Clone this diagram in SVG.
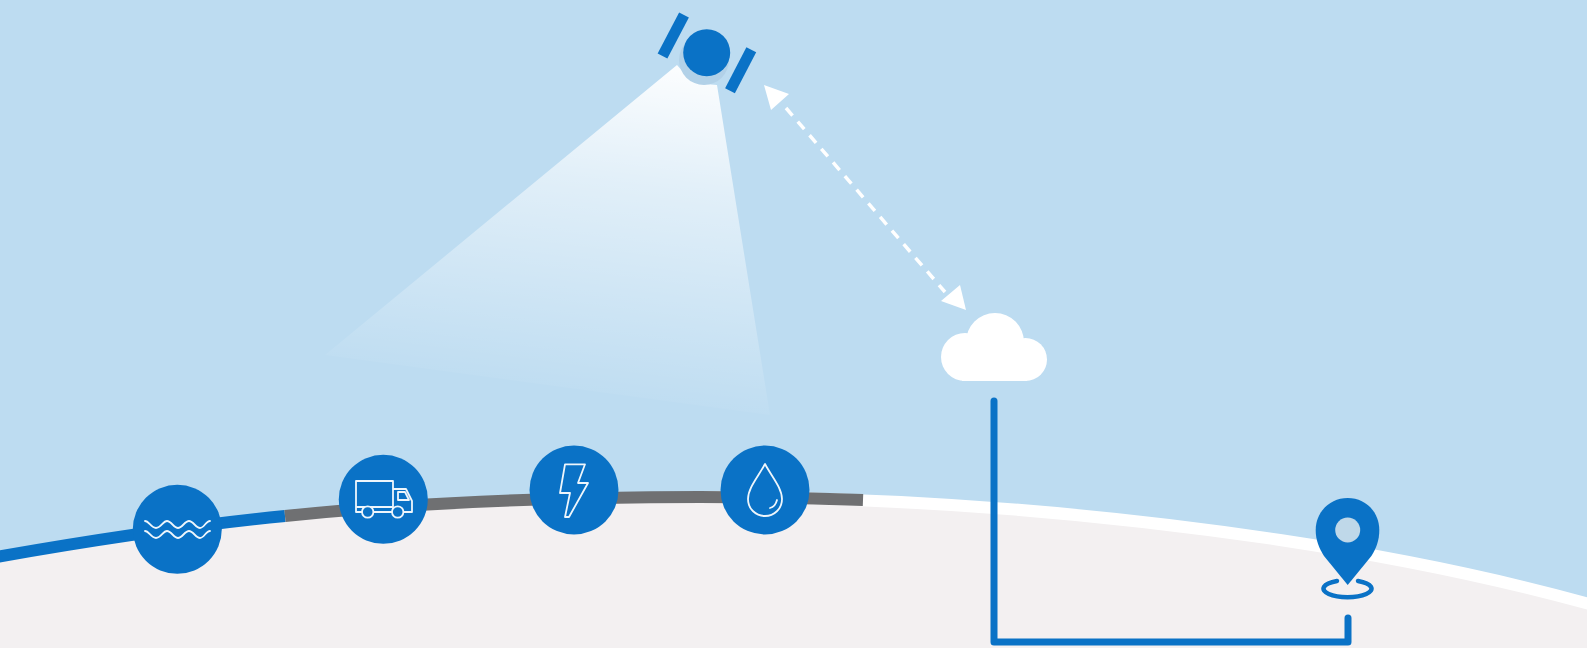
<svg xmlns="http://www.w3.org/2000/svg" width="1587" height="648" viewBox="0 0 1587 648">
<style>
.disc{fill:#0a72c6}
.glyph{fill:none;stroke:#eef6fc;stroke-width:1.8;stroke-linejoin:round;stroke-linecap:round}
.band{fill:none;stroke-width:12}
.wire{fill:none;stroke:#0a72c6;stroke-width:7;stroke-linecap:round;stroke-linejoin:round}
.panel{fill:none;stroke:#0a72c6;stroke-width:11}
.cloud{fill:#fff}
</style>
<defs>
<linearGradient id="beam" gradientUnits="userSpaceOnUse" x1="695" y1="70" x2="650" y2="416">
<stop offset="0" stop-color="#fff" stop-opacity=".95"/>
<stop offset=".35" stop-color="#fff" stop-opacity=".55"/>
<stop offset="1" stop-color="#fff" stop-opacity="0"/>
</linearGradient>
</defs>
<rect width="1587" height="648" fill="#bddcf1"/>
<path d="M-20 560C225 518 450 497 700 497C900 497 1100 513 1280 540C1380 555 1490 576 1600 607V648H-20Z" fill="#f3f0f1"/>
<g id="beam-cone"><path d="M677 65Q692 84 717 85L770 415L325 355Z" fill="url(#beam)"/></g>
<g id="ground-line">
<path class="band" stroke-width="13" d="M700 497C900 497 1100 513 1280 540C1380 555 1490 576 1600 607" stroke="#fff"/>
<path class="band" d="M-20 560C85 541 185 526 285 516" stroke="#0a72c6"/>
<path class="band" d="M285 516C420 502 560 497 700 497C755 497 810 498 863 500" stroke="#6f7072"/>
</g>
<g id="satellite">
<circle cx="704" cy="60" r="25" fill="#b2d1e8"/>
<circle cx="706.700" cy="52.700" r="23.500" class="disc"/>
<path class="panel" d="M684 15L662.500 56"/>
<path class="panel" d="M751.300 49.700L730 90.700"/>
</g>
<g id="link">
<path d="M786 108L945 292" stroke="#fff" stroke-width="3.500" stroke-dasharray="10 8" fill="none"/>
<path d="M764 85L789 94L771 110Z" fill="#fff"/>
<path d="M966 310L960 285L941 301Z" fill="#fff"/>
</g>
<g id="cloud">
<circle class="cloud" cx="965" cy="357" r="24"/>
<circle class="cloud" cx="995" cy="342" r="29"/>
<circle class="cloud" cx="1025.500" cy="359.500" r="21.500"/>
<rect class="cloud" x="962" y="345" width="65" height="36"/>
</g>
<g id="connectors"><path class="wire" d="M994 401V642H1348V618"/></g>
<g id="pin">
<path d="M1347.700 498C1330 498 1315.700 512 1315.700 530C1315.700 540 1319 548 1324 556L1347.700 585L1371.400 556C1376.400 548 1379.300 540 1379.300 530C1379.300 512 1365.500 498 1347.700 498Z" class="disc"/>
<circle cx="1347.700" cy="530" r="12.500" fill="#bfd8e9"/>
<path d="M1337 581A24 8.500 0 1 0 1358 581" fill="none" stroke="#0a72c6" stroke-width="4.500" stroke-linecap="round"/>
</g>
<g id="water">
<circle cx="177.300" cy="529.300" r="44.500" class="disc"/>
<path class="glyph" d="M145 521C149 521 151 528 156 528S163 521 167 521S174 528 178 528S185 521 189 521S196 528 200 528S206 521 210 521"/>
<path class="glyph" d="M145 531C149 531 151 538 156 538S163 531 167 531S174 538 178 538S185 531 189 531S196 538 200 538S206 531 210 531"/>
</g>
<g id="truck">
<circle cx="383.300" cy="499.300" r="44.500" class="disc"/>
<path class="glyph" d="M356 512V481H393V512M356 512H412V501L406 489H393M356 507H393M398 492H405L409 500H398Z"/>
<circle cx="367.700" cy="512" r="5.700" fill="#0a72c6" stroke="#eef6fc" stroke-width="1.800"/>
<circle cx="397.700" cy="512" r="5.700" fill="#0a72c6" stroke="#eef6fc" stroke-width="1.800"/>
</g>
<g id="energy">
<circle cx="574" cy="490" r="44.500" class="disc"/>
<path class="glyph" d="M565 464.300H585L578 483H588L569 517H565L570 493H560Z"/>
</g>
<g id="drop">
<circle cx="765" cy="490" r="44.500" class="disc"/>
<path class="glyph" d="M765 464C758 477 748 488 748 499C748 509 756 516 765 516C774 516 782 509 782 499C782 488 772 477 765 464ZM770 508C774 507 776 504 777 500"/>
</g>
</svg>
